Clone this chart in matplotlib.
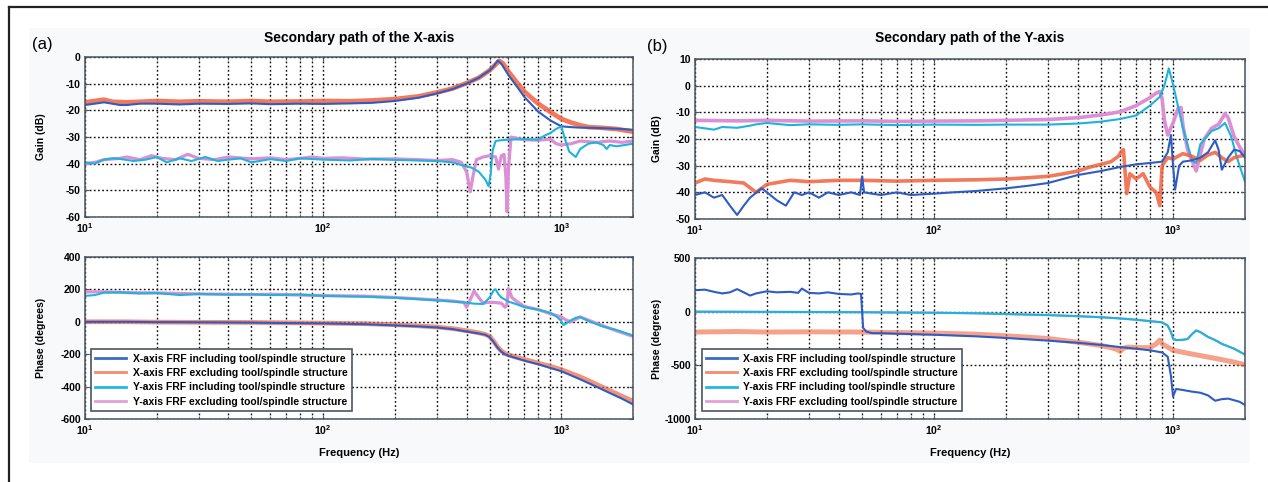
import matplotlib
matplotlib.use("Agg")
import matplotlib.pyplot as plt
from matplotlib.lines import Line2D
from matplotlib.patches import Rectangle

plt.rcParams["font.family"] = ["Liberation Sans", "DejaVu Sans"]
plt.rcParams["font.weight"] = "bold"
plt.rcParams["mathtext.default"] = "regular"

# ---------------- (a) X-axis secondary path: gain ----------------
fa_g_xin = [10, 11, 12, 13, 14, 15, 17, 20, 25, 30, 40, 50, 60, 80, 100, 130, 160, 200, 250, 300,
            350, 400, 450, 500, 520, 540, 560, 600, 650, 700, 800, 900, 1000, 1100, 1200, 1400,
            1600, 1800, 2000]
ga_xin = [-18, -17.5, -17, -17.5, -18, -18, -17.5, -17.5, -17.8, -17.5, -17.6, -17.4, -17.7, -17.5,
          -17.6, -17.4, -17.2, -16.5, -15.3, -13.7, -12, -10, -7.8, -5, -3.5, -1.3, -2.5, -6.8,
          -11, -15, -20.5, -23.8, -26, -26.3, -26.5, -26.6, -26.8, -27, -27.3]

fa_g_xex = [10, 11, 12, 13, 15, 17, 20, 25, 30, 40, 50, 60, 80, 100, 130, 160, 200, 250, 300, 350,
            400, 450, 500, 530, 550, 570, 600, 650, 700, 800, 900, 1000, 1100, 1200, 1300, 1500,
            1700, 1850, 2000]
ga_xex = [-17, -16.5, -16, -16.8, -17, -16.8, -16.5, -16.8, -16.6, -16.8, -16.5, -16.8, -16.7, -16.5,
          -16.6, -16.3, -15.8, -14.8, -13.3, -11.8, -9.8, -7.8, -5, -2.8, -1.5, -2.5, -5.5, -9.5,
          -13, -17.5, -20.6, -23.2, -24.6, -25.6, -26.3, -26.6, -27, -27.5, -28]

fa_g_yin = [10, 11, 12, 13, 14, 16, 18, 20, 22, 25, 28, 32, 36, 40, 45, 50, 60, 70, 80, 100, 130,
            160, 200, 250, 300, 350, 380, 420, 450, 480, 495, 505, 515, 530, 560, 600, 700, 800,
            850, 900, 950, 1000, 1030, 1080, 1150, 1200, 1300, 1400, 1500, 1550, 1600, 1700, 1850,
            2000]
ga_yin = [-39.5, -40, -38.5, -38, -38.2, -39, -38.5, -37.5, -39.5, -38, -39, -37.5, -39, -38.5, -38,
          -39.5, -38.3, -39, -38, -38.5, -38.8, -38.2, -38.6, -38.8, -39, -39.5, -40.5, -41.5, -43,
          -46, -48.5, -44, -35, -31.5, -31.2, -31, -30.8, -31, -29.5, -28.5, -27, -26, -30, -35.5,
          -37.5, -34.5, -32.5, -32, -33, -34.5, -33, -33.5, -33, -32.5]

fa_g_yex = [10, 11, 12, 14, 15, 17, 19, 21, 24, 27, 30, 35, 40, 50, 60, 70, 80, 90, 100, 120, 150,
            200, 250, 300, 350, 380, 400, 415, 425, 440, 470, 500, 530, 545, 560, 575, 585, 592,
            600, 615, 650, 700, 800, 900, 950, 1000, 1100, 1200, 1400, 1600, 1800, 2000]
ga_yex = [-40, -39.5, -38.5, -38, -37.5, -38.5, -37, -38, -38.5, -36.5, -38, -38.5, -37.5, -38.2,
          -37.8, -38.5, -38, -37.5, -38, -37.8, -38.3, -38.2, -38.5, -38.8, -38.5, -39.5, -43,
          -50.5, -45, -38.5, -37.5, -37, -37.5, -42, -37, -36.5, -45, -58, -42, -30, -30.5, -31,
          -31.2, -30.8, -32.5, -33, -32.5, -31.5, -32, -31.5, -32, -31.5]

# ---------------- (a) X-axis secondary path: phase ----------------
fa_p_x = [10, 15, 20, 30, 50, 70, 100, 150, 200, 250, 300, 350, 400, 450, 480, 500, 520, 540, 560,
          580, 600, 650, 700, 800, 900, 1000, 1200, 1400, 1600, 1800, 2000]
pa_xin = [0, 0, -2, -3, -5, -8, -10, -15, -22, -28, -35, -45, -60, -72, -80, -95, -125, -160, -185,
          -200, -210, -225, -240, -262, -285, -305, -355, -400, -440, -475, -510]
pa_xex = [0, 0, -2, -3, -4, -6, -8, -12, -18, -25, -32, -42, -55, -68, -78, -90, -120, -155, -180,
          -195, -205, -220, -232, -255, -275, -295, -340, -385, -425, -460, -490]

fa_p_yin = [10, 11, 12, 14, 17, 20, 25, 30, 40, 50, 60, 80, 100, 150, 200, 250, 300, 350, 400, 430,
            470, 500, 520, 530, 545, 560, 600, 650, 700, 800, 900, 950, 1000, 1020, 1050, 1100,
            1150, 1200, 1300, 1500, 1700, 2000]
pa_yin = [160, 165, 180, 182, 175, 178, 165, 172, 168, 170, 165, 168, 160, 155, 148, 140, 132, 125,
          118, 112, 110, 150, 195, 200, 170, 150, 125, 108, 90, 75, 55, 35, 5, -20, -10, 10, 25, 30,
          5, -30, -50, -85]

fa_p_yex = [10, 12, 15, 20, 25, 30, 40, 50, 60, 80, 100, 150, 200, 250, 300, 350, 390, 400, 410,
            430, 450, 470, 490, 520, 560, 580, 590, 600, 620, 650, 700, 800, 900, 1000, 1050, 1100,
            1200, 1300, 1500, 1700, 2000]
pa_yex = [185, 185, 180, 178, 175, 172, 170, 168, 170, 165, 162, 158, 150, 142, 135, 128, 120, 90,
          120, 190, 150, 115, 120, 120, 115, 90, 100, 205, 150, 125, 95, 75, 50, 30, 10, 0, 30, 10,
          -25, -55, -90]

# ---------------- (b) Y-axis secondary path: gain ----------------
fb_g_xin = [10, 11, 12, 13, 14, 15, 16, 17, 19, 20, 22, 24, 26, 28, 30, 33, 36, 40, 45, 49, 50, 51,
            55, 60, 70, 80, 100, 120, 150, 200, 250, 300, 400, 500, 600, 700, 800, 900, 950, 980,
            1000, 1020, 1060, 1100, 1200, 1300, 1400, 1500, 1550, 1600, 1700, 1800, 1900, 2000]
gb_xin = [-41, -40, -42, -41, -45, -48.5, -45, -42, -38.5, -40, -43, -45, -40, -41, -40, -42, -40,
          -41, -40, -41, -34, -40, -40.5, -41, -40, -41, -40.5, -40, -39.5, -38.5, -37.5, -36.5,
          -33.5, -32, -30.5, -29.5, -29, -28.5, -25, -18.5, -30, -39, -30, -28.5, -28, -27, -25,
          -20.5, -24, -31.5, -27, -24, -24.5, -27]

fb_g_xex = [10, 11, 12, 14, 16, 18, 20, 25, 30, 40, 50, 70, 100, 150, 200, 250, 300, 350, 400, 450,
            500, 550, 590, 610, 620, 640, 660, 700, 750, 800, 850, 880, 900, 950, 1000, 1100, 1200,
            1300, 1400, 1500, 1600, 1700, 1800, 2000]
gb_xex = [-36.5, -35, -35.5, -36, -36.5, -40, -37, -35.5, -36, -35.5, -35.5, -35.8, -35.5, -35.3,
          -35, -34.5, -34, -33, -32, -30.5, -29.5, -28.5, -26.5, -24.5, -24, -40.5, -33, -35, -33,
          -38, -40, -45, -30, -27, -27.5, -25.5, -26.5, -28, -26, -25, -27, -28.5, -27, -26]

fb_g_yin = [10, 11, 12, 13, 15, 17, 18, 20, 25, 30, 40, 50, 70, 100, 150, 200, 300, 400, 500, 600,
            700, 800, 880, 920, 960, 1000, 1100, 1200, 1250, 1300, 1450, 1550, 1650, 1750, 1850,
            2000]
gb_yin = [-15.5, -16, -16.5, -15.5, -15.8, -15, -14.5, -14, -14.8, -14.5, -14.7, -14.5, -14.8, -14.6,
          -14.7, -14.6, -14.6, -14.2, -13.5, -12.5, -11.2, -7.5, -4.2, 0, 6.5, 0.5, -16, -28, -29,
          -22, -17, -16, -14, -19, -27, -36]

fb_g_yex = [10, 15, 20, 30, 50, 70, 100, 150, 200, 300, 400, 500, 600, 700, 800, 850, 880, 900, 920,
            950, 1000, 1050, 1080, 1100, 1150, 1250, 1350, 1450, 1550, 1650, 1700, 1800, 1900, 2000]
gb_yex = [-13, -13.2, -13, -13.3, -13.2, -13.4, -13.3, -13.2, -13, -12.7, -12, -11, -9.8, -7.5, -4.5,
          -2.8, -2.2, -5, -13, -18.5, -14, -8.5, -8.2, -15, -24, -32, -20, -16, -14.5, -10.5, -12,
          -19, -23, -26]

# ---------------- (b) Y-axis secondary path: phase ----------------
fb_p_xin = [10, 11, 12, 13, 14, 15, 16, 17, 18, 20, 22, 25, 27, 28, 30, 33, 36, 40, 45, 48, 49.5,
            50.5, 52, 55, 60, 70, 100, 150, 200, 300, 400, 500, 600, 700, 800, 900, 950, 980, 1000,
            1030, 1100, 1200, 1300, 1400, 1500, 1600, 1700, 1800, 1900, 2000]
pb_xin = [200, 205, 185, 170, 180, 210, 180, 150, 170, 190, 180, 185, 175, 215, 175, 170, 180, 165,
          160, 170, 165, -150, -185, -200, -200, -205, -215, -230, -245, -270, -290, -310, -330,
          -345, -360, -380, -420, -600, -790, -720, -730, -745, -755, -780, -830, -815, -810, -825,
          -840, -870]

fb_p_xex = [10, 15, 20, 30, 50, 70, 100, 150, 200, 300, 400, 500, 550, 580, 600, 620, 650, 700, 800,
            850, 880, 900, 950, 1000, 1200, 1500, 1800, 2000]
pb_xex = [-190, -185, -190, -188, -190, -195, -200, -210, -225, -250, -285, -315, -335, -350, -370,
          -340, -330, -335, -335, -300, -265, -300, -330, -360, -395, -435, -470, -495]

fb_p_y = [10, 20, 30, 50, 70, 100, 150, 200, 300, 400, 500, 600, 700, 800, 900, 950, 980, 1000,
          1030, 1100, 1150, 1200, 1250, 1300, 1400, 1500, 1600, 1800, 2000]
pb_yin = [0, -2, -3, -5, -8, -10, -15, -22, -32, -42, -52, -63, -75, -88, -100, -130, -190, -250,
          -265, -262, -255, -210, -175, -190, -235, -265, -300, -345, -400]
pb_yex = [0, -2, -3, -5, -8, -10, -15, -22, -32, -42, -52, -63, -75, -88, -100, -130, -190, -250,
          -265, -262, -255, -210, -175, -190, -235, -265, -300, -345, -400]

labels = ["X-axis FRF including tool/spindle structure",
          "X-axis FRF excluding tool/spindle structure",
          "Y-axis FRF including tool/spindle structure",
          "Y-axis FRF excluding tool/spindle structure"]
c_xin, c_xex, c_yin, c_yex = "#2f5cc2", "#f0623e", "#1db4dc", "#dc8fd4"

W, H = 1268, 482
fig = plt.figure(figsize=(W / 100, H / 100), dpi=100)
fig.patch.set_facecolor("white")


def box(l, t, r, b):
    return [l / W, 1 - b / H, (r - l) / W, (b - t) / H]


fig.patches.append(Rectangle((29 / W, 1 - 463 / H), (1250 - 29) / W, (463 - 28) / H,
                             transform=fig.transFigure, facecolor="#f8f9fb", edgecolor="none", zorder=-5))
fig.lines.append(Line2D([9 / W, 1], [1 - 7 / H, 1 - 7 / H], transform=fig.transFigure, color="#222", lw=1.6))
fig.lines.append(Line2D([9 / W, 9 / W], [0, 1 - 7 / H], transform=fig.transFigure, color="#222", lw=1.6))

ax_ag = fig.add_axes(box(85, 57, 633, 217))
ax_ap = fig.add_axes(box(85, 257, 633, 419))
ax_bg = fig.add_axes(box(695, 59, 1245, 219))
ax_bp = fig.add_axes(box(695, 258, 1245, 419))


def style(ax, ylim, yticks, ylabel, xlabel, lx):
    ax.set_xscale("log")
    ax.set_xlim(10, 2000)
    ax.set_ylim(*ylim)
    ax.set_yticks(yticks)
    ax.set_yticklabels([str(v) for v in yticks])
    ax.set_xticks([10, 100, 1000])
    ax.set_xticklabels(["$10^1$", "$10^2$", "$10^3$"])
    ax.tick_params(which="both", direction="in", top=True, right=True, labelsize=7.5, pad=3,
                   length=3, color="#4a5560")
    ax.tick_params(which="minor", length=2)
    ax.grid(True, which="both", axis="x", color="#111", linestyle=(0, (1.3, 1.7)), lw=1.0)
    ax.grid(True, which="major", axis="y", color="#111", linestyle=(0, (1.3, 1.7)), lw=1.0)
    for s in ax.spines.values():
        s.set_color("#4a5560")
        s.set_linewidth(1.1)
    ax.set_ylabel(ylabel, fontsize=7.5, fontweight="bold")
    ax.yaxis.set_label_coords(lx, 0.5)
    if xlabel:
        ax.set_xlabel(xlabel, fontsize=8, fontweight="bold", va="center")
        ax.xaxis.set_label_coords(0.5, -0.21)


# (a) gain
ax_ag.plot(fa_g_xex, ga_xex, color=c_xex, lw=3.4, alpha=0.85)
ax_ag.plot(fa_g_xin, ga_xin, color=c_xin, lw=1.5)
ax_ag.plot(fa_g_yex, ga_yex, color=c_yex, lw=2.3)
ax_ag.plot(fa_g_yin, ga_yin, color=c_yin, lw=1.5)
style(ax_ag, (-60, 0), list(range(0, -61, -10)), "Gain (dB)", None, -0.072)

# (a) phase
ax_ap.plot(fa_p_x, pa_xex, color=c_xex, lw=3.4, alpha=0.7)
ax_ap.plot(fa_p_x, pa_xin, color=c_xin, lw=1.5)
ax_ap.plot(fa_p_yex, pa_yex, color=c_yex, lw=2.3)
ax_ap.plot(fa_p_yin, pa_yin, color=c_yin, lw=1.5)
style(ax_ap, (-600, 400), list(range(400, -601, -200)), "Phase (degrees)", "Frequency (Hz)", -0.072)

# (b) gain
ax_bg.plot(fb_g_yex, gb_yex, color=c_yex, lw=2.6)
ax_bg.plot(fb_g_yin, gb_yin, color=c_yin, lw=1.5)
ax_bg.plot(fb_g_xex, gb_xex, color=c_xex, lw=2.6, alpha=0.85)
ax_bg.plot(fb_g_xin, gb_xin, color=c_xin, lw=1.5)
style(ax_bg, (-50, 10), list(range(10, -51, -10)), "Gain (dB)", None, -0.06)

# (b) phase
ax_bp.plot(fb_p_y, pb_yex, color=c_yex, lw=1.5)
ax_bp.plot(fb_p_y, pb_yin, color=c_yin, lw=1.5)
ax_bp.plot(fb_p_xex, pb_xex, color=c_xex, lw=3.6, alpha=0.6)
ax_bp.plot(fb_p_xin, pb_xin, color=c_xin, lw=1.5)
style(ax_bp, (-1000, 500), [500, 0, -500, -1000], "Phase (degrees)", "Frequency (Hz)", -0.06)

handles = [Line2D([], [], color=c, lw=2) for c in ["#3a6ac8", "#f58a70", "#22b8e0", "#e0a0d8"]]
for ax, x0 in [(ax_ap, 0.011), (ax_bp, 0.012)]:
    leg = ax.legend(handles, labels, loc="lower left", bbox_to_anchor=(x0, 0.05), borderaxespad=0,
                    fancybox=False, framealpha=1, edgecolor="#4a5560", handlelength=3.0,
                    handletextpad=0.6, labelspacing=0.42, borderpad=0.4,
                    prop={"size": 7.5, "weight": "bold"})
    leg.get_frame().set_linewidth(1.2)

fig.text(359 / W, 1 - 38 / H, "Secondary path of the X-axis", ha="center", va="center",
         fontsize=10, fontweight="bold")
fig.text(970 / W, 1 - 38 / H, "Secondary path of the Y-axis", ha="center", va="center",
         fontsize=10, fontweight="bold")
fig.text(42 / W, 1 - 44 / H, "(a)", ha="center", va="center", fontsize=12, fontweight="normal")
fig.text(657 / W, 1 - 46 / H, "(b)", ha="center", va="center", fontsize=12, fontweight="normal")

fig.savefig("out.png", dpi=100)
